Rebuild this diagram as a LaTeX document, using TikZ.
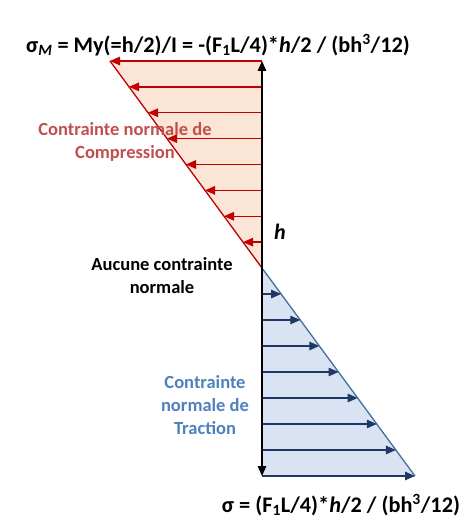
\documentclass[tikz,border=0pt]{standalone}
\usepackage{fontspec}
\setmainfont{Carlito}
\usepackage{tikz}
\usetikzlibrary{arrows.meta}
\definecolor{comprline}{HTML}{C00000}
\definecolor{comprfill}{HTML}{FBE5D6}
\definecolor{comprtext}{HTML}{C0504D}
\definecolor{tracline}{HTML}{41719C}
\definecolor{tracfill}{HTML}{DAE3F3}
\definecolor{tracarrow}{HTML}{1F3864}
\definecolor{tractext}{HTML}{4F81BD}

\begin{document}
\begin{tikzpicture}[x=1pt, y=-1pt, every node/.style={font=\bfseries, inner sep=0pt},
    tip/.style={-{Triangle[length=10pt, width=8.5pt]}}]
  \useasboundingbox (0,0) rectangle (459,518);
  % --- compression zone ---------------------------------------------
  \fill[comprfill] (262,61) -- (110,61) -- (262,268) -- cycle;
  \draw[comprline, line width=1.3pt] (110,61) -- (262,268);
  \foreach \i in {0,...,7}
    \draw[comprline, line width=1.3pt, tip]
      (262, 61+25.875*\i) -- (110+19*\i, 61+25.875*\i);
  % --- traction zone ------------------------------------------------
  \fill[tracfill] (262,268) -- (262,476) -- (415,476) -- cycle;
  \draw[tracline, line width=1.3pt] (262,268) -- (415,476);
  \foreach \i in {1,...,8}
    \draw[tracarrow, line width=1.3pt, tip]
      (262, 268+26*\i) -- (262+19.125*\i, 268+26*\i);
  % --- section height axis ------------------------------------------
  \draw[line width=1.3pt, {Triangle[length=10pt, width=8.5pt]}-{Triangle[length=10pt, width=8.5pt]}]
    (262,61) -- (262,476);
  \node[font=\bfseries\itshape\fontsize{22}{24}\selectfont] (h) at (280,232) {h};
  % --- labels ---------------------------------------------------------
  \node[font=\bfseries\fontsize{22.3}{26}\selectfont] (sigmaM) at (218,45)
    {σ\textsubscript{\textit{M}} = My(=h/2)/I = -(F\textsubscript{1}L/4)*\textit{h}/2 / (bh\textsuperscript{3}/12)};
  \node[font=\bfseries\fontsize{22.3}{26}\selectfont] (sigma) at (341,505)
    {σ = (F\textsubscript{1}L/4)*\textit{h}/2 / (bh\textsuperscript{3}/12)};
  \node[comprtext, align=center, font=\bfseries\fontsize{18.5}{23}\selectfont] (compr) at (125,142)
    {Contrainte normale de\\Compression};
  \node[align=center, font=\bfseries\fontsize{18.5}{23}\selectfont] (neutral) at (162,276)
    {Aucune contrainte\\normale};
  \node[tractext, align=center, font=\bfseries\fontsize{18.5}{23}\selectfont] (trac) at (205,405)
    {Contrainte\\normale de\\Traction};
\end{tikzpicture}
\end{document}
